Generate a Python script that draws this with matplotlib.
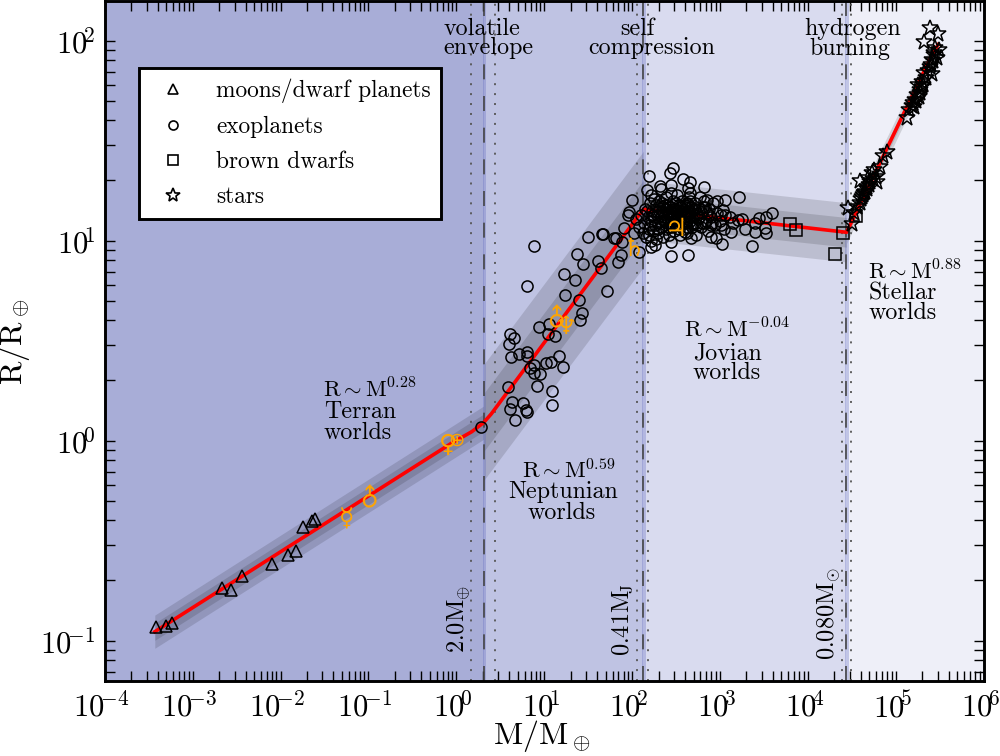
import matplotlib
matplotlib.use("Agg")
import matplotlib.pyplot as plt
from matplotlib.lines import Line2D
from matplotlib.ticker import FixedLocator, FixedFormatter, LogLocator, NullFormatter
from matplotlib.transforms import ScaledTranslation
import numpy as np

plt.rcParams['font.family'] = ['cmr10', 'DejaVu Sans']
plt.rcParams['mathtext.fontset'] = 'cm'
plt.rcParams['axes.unicode_minus'] = False
plt.rcParams['axes.formatter.use_mathtext'] = True

# all values are log10(M/Mearth) and log10(R/Rearth)
moon_logm = [-3.42, -3.30, -3.23, -2.664, -2.558, -2.443, -2.097, -1.911, -1.823, -1.748, -1.645, -1.603]
moon_logr = [-0.93, -0.928, -0.913, -0.735, -0.745, -0.678, -0.617, -0.57, -0.55, -0.43, -0.40, -0.39]

# neptunian side
nep_logm = [0.887, 0.810, 1.499, 1.658, 1.369, 1.438, 1.613, 1.651, 1.221, 1.347, 1.712, 1.240, 1.392, 1.430, 1.407,
            0.944, 1.058, 1.039, 1.122, 0.613, 0.658, 0.605, 0.620, 0.715, 0.803, 0.803, 1.172, 1.077, 1.02, 1.217,
            0.879, 0.841, 0.887, 0.955, 0.59, 0.913, 1.088, 0.639, 0.761, 0.609, 0.79, 0.81, 1.088, 0.67, 0.278]
nep_logr = [0.975, 0.775, 1.018, 1.035, 0.935, 0.882, 0.90, 0.862, 0.833, 0.804, 0.75, 0.729, 0.705, 0.637, 0.602,
            0.567, 0.582, 0.532, 0.523, 0.532, 0.512, 0.483, 0.417, 0.433, 0.445, 0.423, 0.423, 0.392, 0.387, 0.37,
            0.378, 0.362, 0.337, 0.333, 0.268, 0.272, 0.247, 0.195, 0.19, 0.158, 0.153, 0.142, 0.177, 0.105, 0.068]

# edge of the jovian cloud
jov_logm = [2.464, 2.434, 2.191, 2.579, 2.655, 2.312, 2.445, 2.168, 2.636, 2.818, 2.324, 2.21, 2.445, 2.655, 3.213,
            3.061, 2.97, 2.856, 2.769, 2.001, 1.97, 1.951, 3.035, 3.016, 3.111, 3.586, 3.529, 3.442, 3.206, 3.396,
            3.282, 3.51, 3.529, 3.396, 3.122, 3.016, 2.902, 2.826, 2.959, 3.023, 2.902, 2.674, 2.598, 2.445, 2.255,
            2.217, 2.445, 2.636, 3.369, 1.913, 1.818, 1.883, 1.666, 2.084, 2.027, 1.875, 1.845, 1.799]
jov_logr = [1.362, 1.337, 1.325, 1.307, 1.295, 1.274, 1.279, 1.254, 1.262, 1.267, 1.257, 1.229, 1.237, 1.237, 1.22,
            1.204, 1.2, 1.204, 1.22, 1.204, 1.145, 1.128, 1.153, 1.129, 1.117, 1.137, 1.117, 1.112, 1.104, 1.087,
            1.057, 1.062, 1.04, 1.045, 1.045, 1.078, 1.078, 1.087, 1.012, 0.982, 1.02, 1.012, 1.045, 0.995, 0.978,
            0.97, 0.925, 0.928, 0.975, 1.062, 1.012, 0.995, 1.033, 0.945, 1.037, 0.928, 0.892, 1.015]

# inside of the cloud (mostly overlapping circles, estimated)
core_logm = [2.05, 2.08, 2.10, 2.12, 2.14, 2.15, 2.16, 2.18, 2.19, 2.20, 2.21, 2.22, 2.23, 2.24, 2.25, 2.26, 2.27,
             2.28, 2.29, 2.30, 2.31, 2.32, 2.33, 2.34, 2.35, 2.36, 2.37, 2.38, 2.39, 2.40, 2.41, 2.42, 2.43, 2.44,
             2.45, 2.46, 2.47, 2.48, 2.49, 2.50, 2.51, 2.52, 2.53, 2.54, 2.55, 2.56, 2.57, 2.58, 2.59, 2.60, 2.61,
             2.62, 2.63, 2.64, 2.65, 2.66, 2.67, 2.68, 2.70, 2.72, 2.73, 2.75, 2.76, 2.78, 2.80, 2.82, 2.84, 2.86,
             2.88, 2.90, 2.92, 2.94, 2.97, 3.00, 3.04, 3.06, 3.15, 3.25,
             2.31, 2.36, 2.41, 2.44, 2.47, 2.50, 2.53, 2.56, 2.59, 2.62, 2.65, 2.68, 2.71, 2.74, 2.38, 2.46, 2.54,
             2.60, 2.66, 2.35, 2.43, 2.51, 2.57, 2.63,
             2.17, 2.20, 2.24, 2.27, 2.29, 2.33, 2.37, 2.40, 2.42, 2.45, 2.48, 2.49, 2.52, 2.55, 2.58, 2.61, 2.64,
             2.67, 2.69, 2.72, 2.76, 2.79, 2.83, 2.87, 2.91, 2.19, 2.25, 2.30, 2.34, 2.39, 2.44, 2.50, 2.53, 2.56,
             2.62, 2.66, 2.70, 2.74, 2.81, 2.85]
core_logr = [1.11, 1.07, 1.13, 1.04, 1.09, 1.16, 1.02, 1.12, 1.06, 1.19, 1.00, 1.10, 1.15, 1.05, 1.21, 1.08, 1.01,
             1.13, 1.17, 1.04, 1.20, 1.10, 1.07, 1.15, 1.02, 1.12, 1.18, 1.06, 1.22, 1.09, 1.14, 1.03, 1.17, 1.11,
             1.07, 1.20, 1.13, 1.05, 1.16, 1.10, 1.23, 1.08, 1.18, 1.03, 1.14, 1.11, 1.20, 1.06, 1.16, 1.12, 1.09,
             1.19, 1.04, 1.14, 1.22, 1.10, 1.17, 1.07, 1.13, 1.19, 1.03, 1.11, 1.16, 1.07, 1.14, 1.20, 1.10, 1.05,
             1.16, 1.12, 1.19, 1.08, 1.14, 1.10, 1.06, 1.13, 1.09, 1.11,
             1.15, 1.10, 1.18, 1.13, 1.08, 1.15, 1.12, 1.17, 1.09, 1.15, 1.12, 1.16, 1.09, 1.14, 1.14, 1.16, 1.10,
             1.18, 1.14, 1.17, 1.09, 1.13, 1.15, 1.10,
             1.15, 1.08, 1.13, 1.18, 1.09, 1.13, 1.10, 1.16, 1.07, 1.12, 1.16, 1.09, 1.13, 1.17, 1.10, 1.14, 1.18,
             1.12, 1.09, 1.16, 1.12, 1.09, 1.17, 1.13, 1.09, 1.03, 1.12, 1.06, 1.19, 1.16, 1.15, 1.19, 1.06, 1.15,
             1.07, 1.20, 1.16, 1.08, 1.17, 1.14]

dwarf_logm = [3.795, 3.86, 4.403, 4.307, 4.543]
dwarf_logr = [1.084, 1.054, 1.037, 0.934, 1.124]

star_logm = [5.391, 5.478, 5.322, 5.448, 5.486, 5.429, 5.41, 5.467, 5.402, 5.417, 5.326, 5.341, 5.296, 5.258, 5.303,
             5.277, 5.239, 5.22, 5.201, 5.182, 5.151, 5.125, 4.897, 4.859, 4.821, 4.756, 4.725, 4.783, 4.687, 4.707,
             4.592, 4.668, 4.649, 4.630, 4.611, 4.592, 4.459, 4.497,
             5.44, 5.42, 5.39, 5.37, 5.31, 5.28, 5.26, 5.23, 5.21, 4.77, 4.74, 4.70, 4.67, 4.64, 4.60, 4.56, 4.53]
star_logr = [2.065, 2.032, 1.992, 1.962, 1.954, 1.929, 1.904, 1.912, 1.879, 1.833, 1.837, 1.812, 1.795, 1.778, 1.767,
             1.753, 1.728, 1.703, 1.687, 1.673, 1.654, 1.612, 1.445, 1.423, 1.37, 1.353, 1.337, 1.295, 1.312, 1.295,
             1.298, 1.27, 1.245, 1.228, 1.22, 1.187, 1.162, 1.083,
             1.94, 1.90, 1.87, 1.85, 1.78, 1.74, 1.72, 1.70, 1.67, 1.32, 1.31, 1.28, 1.26, 1.24, 1.21, 1.17, 1.14]

# solar system bodies
body_names = ['\u263f', '\u2642', '\u2640', '\u2295', '\u2646', '\u2642', '\u2644', '\u2643']
body_logm = [-1.25, -0.976, -0.09, 0.0, 1.247, 1.16, 2.02, 2.50]
body_logr = [-0.396, -0.28, -0.02, 0.0, 0.57, 0.62, 0.96, 1.06]
body_rot = [0, 45, 0, 0, 0, 45, 0, 0]
body_size = [18, 18, 18, 14, 18, 18, 18, 18]

# fitted relation
line_logm = [-3.43, -0.06, 0.176, 0.31, 0.398, 2.13, 4.44, 5.39, 5.48]
line_logr = [-0.955, -0.014, 0.045, 0.09, 0.134, 1.158, 1.042, 1.91, 1.98]

# band edges per regime: [left, right]
seg_logm = [[-3.43, 0.31], [0.31, 2.13], [2.13, 4.44], [4.44, 5.39]]
seg_mid = [[-0.955, 0.09], [0.09, 1.158], [1.152, 1.042], [1.042, 1.91]]
seg_inner = [0.043, 0.145, 0.074, 0.028]
seg_outer = [0.083, 0.29, 0.148, 0.056]

bounds_logm = [-4, 0.316, 2.129, 4.437, 6]
bg_colors = ['#A8ADD7', '#BFC3E3', '#D9DBEF', '#EEEFF8']
dots_logm = [0.164, 0.438, 2.057, 2.179, 4.39, 4.485]

x_exps = [-4, -3, -2, -1, 0, 1, 2, 3, 4, 5, 6]
y_exps = [-1, 0, 1, 2]

# text: x centre, baseline y (pixels), string, size
region_texts = [(370, 397, 'R$\\sim$M$^{0.28}$', 16.3), (360, 418, 'Terran', 17.3), (358, 439, 'worlds', 17.3),
                (569, 478, 'R$\\sim$M$^{0.59}$', 16.3), (563, 498, 'Neptunian', 17.3), (562, 519, 'worlds', 17.3),
                (737, 338, 'R$\\sim$M$^{-0.04}$', 16.3), (727, 359, 'Jovian', 17.3), (727, 379, 'worlds', 17.3),
                (915, 279, 'R$\\sim$M$^{0.88}$', 16.3), (903, 300, 'Stellar', 17.3), (903, 319, 'worlds', 17.3),
                (482, 35, 'volatile', 17.3), (488, 54, 'envelope', 17.3),
                (637, 35, 'self', 17.3), (652, 54, 'compression', 17.3),
                (853, 35, 'hydrogen', 17.3), (850, 55, 'burning', 17.3)]
side_texts = [(465, 653, '2.0M$\\!_\\oplus$'), (629, 656, '0.41M$\\!_\\mathrm{J}$'), (835, 660, '0.080M$\\!_\\odot$')]


def up(vals):
    return 10.0 ** np.asarray(vals)


def exp_label(e):
    return '$10\\!^{%d}$' % e


fig = plt.figure(figsize=(10, 7.56), dpi=100)
ax = fig.add_axes([0.1047, 1 - 681.4 / 756, 0.879, 680.1 / 756])
ax.set_xscale('log')
ax.set_yscale('log')

for i in range(4):
    ax.axvspan(10.0 ** bounds_logm[i], 10.0 ** bounds_logm[i + 1], color=bg_colors[i], lw=0, zorder=0)

for i in range(4):
    m = up(seg_logm[i])
    mid = np.asarray(seg_mid[i])
    ax.fill_between(m, up(mid - seg_outer[i]), up(mid + seg_outer[i]), color='k', alpha=0.13, lw=0, zorder=1)
    ax.fill_between(m, up(mid - seg_inner[i]), up(mid + seg_inner[i]), color='k', alpha=0.13, lw=0, zorder=1)

for b in bounds_logm[1:4]:
    ax.axvspan(10 ** (b - 0.012), 10 ** (b + 0.025), color='#5C66BE', alpha=0.3, lw=0, zorder=1.5)
    ax.axvline(10 ** b, color='#444444', lw=1.2, dashes=(9, 10), zorder=1.6)
for d in dots_logm:
    ax.axvline(10 ** d, color='#555555', lw=1.3, dashes=(1.1, 4.4), zorder=1.6)

ax.plot(up(line_logm), up(line_logr), color='r', lw=2.6, zorder=2)

mark = dict(ls='none', mfc='none', mec='k', mew=1.1, zorder=3)
ax.plot(up(moon_logm), up(moon_logr), marker='^', ms=8.5, **mark)
ax.plot(up(nep_logm), up(nep_logr), marker='o', ms=8, **mark)
ax.plot(up(jov_logm), up(jov_logr), marker='o', ms=8, **mark)
ax.plot(up(core_logm), up(core_logr), marker='o', ms=8, **mark)
ax.plot(up(dwarf_logm), up(dwarf_logr), marker='s', ms=8, **mark)
ax.plot(up(star_logm), up(star_logr), marker='*', ms=12, **mark)

for name, lm, lr, rot, sz in zip(body_names, body_logm, body_logr, body_rot, body_size):
    ax.text(10 ** lm, 10 ** lr, name, color='#FFA500', family='DejaVu Sans', fontsize=sz, rotation=rot,
            ha='center', va='center', zorder=4)

ax.set_xlim(1e-4, 1e6)
ax.set_ylim(10 ** -1.2035, 10 ** 2.197)
ax.xaxis.set_major_locator(FixedLocator(up(x_exps)))
ax.xaxis.set_major_formatter(FixedFormatter([exp_label(e) for e in x_exps]))
ax.xaxis.set_minor_locator(LogLocator(base=10, subs=np.arange(2, 10), numticks=15))
ax.xaxis.set_minor_formatter(NullFormatter())
ax.yaxis.set_major_locator(FixedLocator(up(y_exps)))
ax.yaxis.set_major_formatter(FixedFormatter([exp_label(e) for e in y_exps]))
ax.yaxis.set_minor_locator(LogLocator(base=10, subs=np.arange(2, 10), numticks=15))
ax.yaxis.set_minor_formatter(NullFormatter())
ax.tick_params(which='both', direction='in', top=True, right=True, length=7.5, width=1.0)
ax.tick_params(which='major', labelsize=22, pad=7)
for s in ax.spines.values():
    s.set_linewidth(2.1)
ax.set_xlabel('M/M$_\\oplus$', fontsize=23, labelpad=-4, x=0.4972)
ax.set_ylabel('R/R$_\\oplus$', fontsize=23, labelpad=6)

# x tick labels sit a little left of their ticks
for tick in ax.xaxis.get_major_ticks():
    tick.label1.set_transform(tick.label1.get_transform() + ScaledTranslation(-0.035, 0, fig.dpi_scale_trans))

handles = [Line2D([], [], ls='none', marker=k, mfc='none', mec='k', mew=1.2, ms=s)
           for k, s in [('^', 6.5), ('o', 6.5), ('s', 6.5), ('*', 10)]]
labels = ['moons/dwarf planets', 'exoplanets', 'brown dwarfs', 'stars']
leg = ax.legend(handles, labels, loc='upper left', bbox_to_anchor=(139 / 1000, 1 - 68 / 756),
                bbox_transform=fig.transFigure, fontsize=16.85, fancybox=False, framealpha=1, edgecolor='k',
                borderaxespad=0, labelspacing=0.55, handlelength=2.0, handletextpad=0.85, borderpad=0.45)
leg.get_frame().set_linewidth(2.1)
leg.set_zorder(6)

for x, y, s, sz in region_texts:
    fig.text(x / 1000, 1 - y / 756, s, fontsize=sz, ha='center', va='baseline')
for x, y, s in side_texts:
    fig.text(x / 1000, 1 - y / 756, s, fontsize=17.5, rotation=90, ha='left', va='baseline',
             rotation_mode='anchor')

fig.savefig('out.png', dpi=100)
